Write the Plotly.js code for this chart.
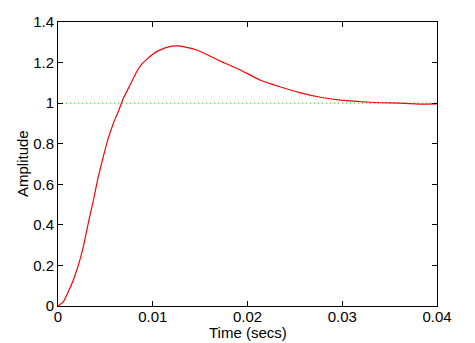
<!DOCTYPE html>
<html>
<head>
<meta charset="utf-8">
<script src="https://cdn.plot.ly/plotly-3.0.1.min.js"></script>
<style>html,body{margin:0;padding:0;background:#fff;}#chart{width:475px;height:343px;}</style>
</head>
<body>
<div id="chart"></div>
<script>
const timeSecs = [0, 0.00056, 0.00109, 0.00162, 0.00214, 0.00267, 0.0032, 0.00373, 0.00425, 0.00478, 0.0053, 0.00584, 0.00636, 0.0069, 0.0076, 0.0083, 0.0088, 0.00936, 0.0104, 0.01147, 0.01253, 0.01358, 0.01464, 0.0157, 0.0171, 0.0192, 0.0213, 0.0234, 0.0255, 0.0277, 0.0298, 0.0319, 0.034, 0.0361, 0.0382, 0.04];
const amplitude = [0, 0.02, 0.07, 0.128, 0.20, 0.292, 0.41, 0.52, 0.637, 0.736, 0.826, 0.90, 0.958, 1.024, 1.089, 1.155, 1.19, 1.216, 1.254, 1.275, 1.282, 1.275, 1.262, 1.24, 1.208, 1.165, 1.114, 1.081, 1.052, 1.029, 1.015, 1.007, 1.002, 1.0, 0.995, 0.996];
const refTime = [0, 0.04];
const refLevel = [1, 1];
const xTicks = [0, 0.01, 0.02, 0.03, 0.04];
const xTickText = ['0', '0.01', '0.02', '0.03', '0.04'];
const yTicks = [0, 0.2, 0.4, 0.6, 0.8, 1, 1.2, 1.4];
const yTickText = ['0', '0.2', '0.4', '0.6', '0.8', '1', '1.2', '1.4'];

const font = {family: 'Liberation Sans, Arial, sans-serif', size: 15, color: '#000'};

const traces = [
  {x: refTime, y: refLevel, mode: 'lines', line: {color: '#00e000', width: 1, dash: '1px,3px'}, hoverinfo: 'skip'},
  {x: timeSecs, y: amplitude, mode: 'lines', line: {color: '#ff0000', width: 1.2, shape: 'spline', smoothing: 0.3}}
];

const layout = {
  width: 475, height: 343,
  margin: {l: 58, r: 38, t: 22, b: 37},
  paper_bgcolor: '#fff', plot_bgcolor: '#fff',
  showlegend: false,
  font: font,
  xaxis: {
    range: [0, 0.04], tickvals: xTicks, ticktext: xTickText,
    ticks: 'inside', ticklen: 5, tickcolor: '#000', tickwidth: 1,
    showline: true, linecolor: '#000', linewidth: 1, mirror: 'ticks',
    showgrid: false, zeroline: false, tickfont: font, ticklabelstandoff: -3
  },
  yaxis: {
    range: [0, 1.4], tickvals: yTicks, ticktext: yTickText,
    ticks: 'inside', ticklen: 5, tickcolor: '#000', tickwidth: 1,
    showline: true, linecolor: '#000', linewidth: 1, mirror: 'ticks',
    showgrid: false, zeroline: false, tickfont: font
  },
  annotations: [
    {text: 'Time (secs)', xref: 'paper', yref: 'paper', x: 0.5, y: 0, yshift: -26, xanchor: 'center', yanchor: 'middle', showarrow: false, font: {family: font.family, size: 15, color: '#000'}},
    {text: 'Amplitude', xref: 'paper', yref: 'paper', x: 0, y: 0.5, xshift: -36, xanchor: 'center', yanchor: 'middle', textangle: -90, showarrow: false, font: {family: font.family, size: 15, color: '#000'}}
  ]
};

Plotly.newPlot('chart', traces, layout, {staticPlot: true, displayModeBar: false});
</script>
</body>
</html>
